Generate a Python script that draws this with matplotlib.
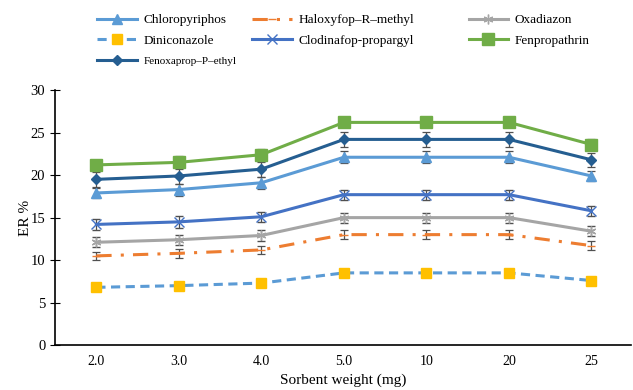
import numpy as np
import matplotlib.pyplot as plt
from matplotlib.lines import Line2D

plt.rcParams['font.family'] = ['Liberation Serif', 'DejaVu Serif']

weights = ['2.0', '3.0', '4.0', '5.0', '10', '20', '25']

chloropyriphos = [17.9, 18.3, 19.1, 22.1, 22.1, 22.1, 19.9]
haloxyfop = [10.5, 10.8, 11.2, 13.0, 13.0, 13.0, 11.7]
oxadiazon = [12.1, 12.4, 12.9, 15.0, 15.0, 15.0, 13.4]
diniconazole = [6.8, 7.0, 7.3, 8.5, 8.5, 8.5, 7.6]
clodinafop = [14.2, 14.5, 15.1, 17.7, 17.7, 17.7, 15.8]
fenpropathrin = [21.2, 21.5, 22.4, 26.2, 26.2, 26.2, 23.6]
fenoxaprop = [19.5, 19.9, 20.7, 24.2, 24.2, 24.2, 21.8]

err_chloro = [0.6, 0.7, 0.7, 0.7, 0.7, 0.7, 0.6]
err_halo = [0.5, 0.5, 0.5, 0.5, 0.5, 0.5, 0.5]
err_oxa = [0.6, 0.6, 0.6, 0.6, 0.6, 0.6, 0.6]
err_dini = [0.2, 0.2, 0.2, 0.2, 0.2, 0.2, 0.2]
err_clod = [0.6, 0.7, 0.6, 0.6, 0.6, 0.6, 0.6]
err_fenp = [0.6, 0.8, 0.7, 0.6, 0.6, 0.6, 0.6]
err_fenox = [0.9, 0.9, 0.9, 0.9, 0.9, 0.9, 0.8]

x = np.arange(len(weights))

fig = plt.figure(figsize=(6.33, 3.9), dpi=100)
ax = fig.add_axes([0.087, 0.115, 0.91, 0.654])

ebkw = dict(ecolor='#505050', elinewidth=0.9, capsize=3, capthick=0.9)

styles = {
    'Chloropyriphos': dict(color='#5B9BD5', marker='^', ms=7),
    'Haloxyfop\u2013R\u2013methyl': dict(color='#ED7D31', dashes=(5, 3, 1, 3), marker='_', ms=6),
    'Oxadiazon': dict(color='#A5A5A5', marker=(6, 2, 0), ms=7, mew=1),
    'Diniconazole': dict(color='#5B9BD5', dashes=(3, 1.8), marker='s', ms=7,
                         mfc='#FFC000', mec='#FFC000'),
    'Clodinafop-propargyl': dict(color='#4472C4', marker='x', ms=7, mew=1),
    'Fenpropathrin': dict(color='#70AD47', marker='s', ms=8),
    'Fenoxaprop\u2013P\u2013ethyl': dict(color='#255E91', marker='D', ms=5),
}
series = [
    ('Chloropyriphos', chloropyriphos, err_chloro),
    ('Haloxyfop\u2013R\u2013methyl', haloxyfop, err_halo),
    ('Oxadiazon', oxadiazon, err_oxa),
    ('Diniconazole', diniconazole, err_dini),
    ('Clodinafop-propargyl', clodinafop, err_clod),
    ('Fenpropathrin', fenpropathrin, err_fenp),
    ('Fenoxaprop\u2013P\u2013ethyl', fenoxaprop, err_fenox),
]

for name, vals, err in series:
    ax.errorbar(x, vals, yerr=err, lw=2.2, **styles[name], **ebkw)

ax.set_xlim(-0.5, 6.48)
ax.set_ylim(0, 30)
ax.set_yticks(range(0, 31, 5))
ax.set_xticks(x)
ax.set_xticklabels(weights)
ax.tick_params(axis='x', length=0, labelsize=10, pad=7)
ax.tick_params(axis='y', direction='inout', length=7, labelsize=10.5)
ax.spines['top'].set_visible(False)
ax.spines['right'].set_visible(False)
ax.spines['left'].set_linewidth(1.2)
ax.spines['bottom'].set_linewidth(1.2)
ax.set_ylabel('ER %', fontsize=11, labelpad=-1)
ax.set_xlabel('Sorbent weight (mg)', fontsize=11, labelpad=4)

# legend: three columns placed like the original
columns = [
    (0.145, ['Chloropyriphos', 'Diniconazole', 'Fenoxaprop\u2013P\u2013ethyl']),
    (0.39, ['Haloxyfop\u2013R\u2013methyl', 'Clodinafop-propargyl']),
    (0.732, ['Oxadiazon', 'Fenpropathrin']),
]
for xpos, names in columns:
    handles = [Line2D([], [], lw=2.2, **styles[n]) for n in names]
    leg = fig.legend(handles, names, loc='upper left', bbox_to_anchor=(xpos, 0.977),
                     frameon=False, fontsize=9.5, handlelength=3.0,
                     labelspacing=0.62, handletextpad=0.5, borderaxespad=0)
    for t in leg.get_texts():
        if t.get_text().startswith('Fenoxaprop'):
            t.set_fontsize(8)

fig.savefig('out.png', dpi=100)
